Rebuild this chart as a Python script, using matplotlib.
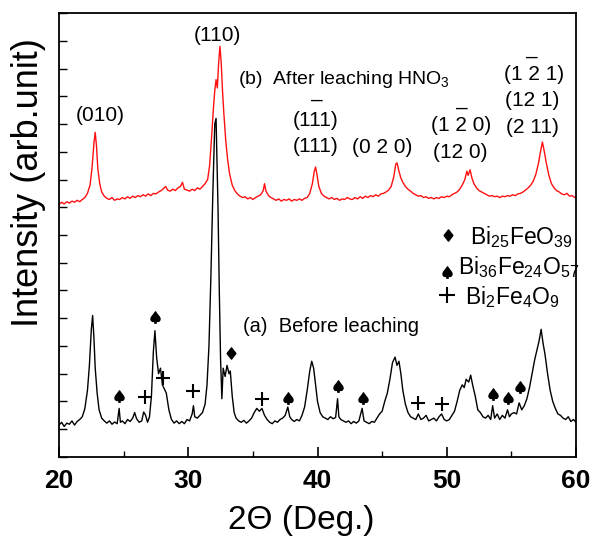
import numpy as np
import matplotlib
matplotlib.use("Agg")
from matplotlib import pyplot as plt
from matplotlib.ticker import MultipleLocator
from matplotlib.textpath import TextPath
from matplotlib.font_manager import FontProperties
from matplotlib.path import Path

# ---- data ----
# (a) before leaching, black trace
x_a = [20.0, 20.2, 20.4, 20.6, 20.8, 21.0, 21.2, 21.4, 21.6, 21.8, 22.0, 22.2, 22.35, 22.5, 22.6, 22.7, 22.8, 22.95,
       23.1, 23.3, 23.5, 23.7, 23.9, 24.1, 24.3, 24.5, 24.65, 24.75, 24.9, 25.1, 25.3, 25.5, 25.7, 25.85, 26.0, 26.2,
       26.4, 26.55, 26.7, 26.85, 27.0, 27.15, 27.3, 27.42, 27.55, 27.7, 27.85, 28.0, 28.15, 28.3, 28.5, 28.7, 28.9,
       29.1, 29.3, 29.5, 29.7, 29.9, 30.1, 30.3, 30.4, 30.5, 30.7, 30.9, 31.1, 31.3, 31.45, 31.6, 31.75, 31.9, 32.05,
       32.15, 32.3, 32.4, 32.5, 32.6, 32.7, 32.85, 33.0, 33.15, 33.25, 33.4, 33.55, 33.7, 33.9, 34.1, 34.3, 34.5, 34.7,
       34.9, 35.1, 35.3, 35.5, 35.7, 35.9, 36.1, 36.3, 36.5, 36.7, 36.9, 37.1, 37.3, 37.5, 37.7, 37.85, 38.0, 38.2,
       38.4, 38.6, 38.8, 39.0, 39.2, 39.4, 39.55, 39.7, 39.85, 40.0, 40.2, 40.4, 40.6, 40.8, 41.0, 41.2, 41.4, 41.55,
       41.65, 41.8, 42.0, 42.2, 42.4, 42.6, 42.8, 43.0, 43.2, 43.45, 43.6, 43.8, 44.0, 44.2, 44.4, 44.6, 44.8, 45.0,
       45.2, 45.4, 45.6, 45.8, 46.0, 46.15, 46.3, 46.45, 46.6, 46.8, 47.0, 47.2, 47.4, 47.6, 47.8, 48.0, 48.2, 48.4,
       48.6, 48.8, 49.0, 49.2, 49.4, 49.6, 49.8, 50.0, 50.2, 50.4, 50.6, 50.8, 51.0, 51.2, 51.35, 51.5, 51.7, 51.85,
       52.0, 52.2, 52.4, 52.6, 52.8, 53.0, 53.2, 53.4, 53.55, 53.7, 53.9, 54.1, 54.3, 54.5, 54.7, 54.85, 55.0, 55.2,
       55.4, 55.6, 55.8, 56.0, 56.2, 56.4, 56.6, 56.8, 57.0, 57.15, 57.3, 57.45, 57.6, 57.8, 58.0, 58.2, 58.4, 58.6,
       58.8, 59.0, 59.2, 59.4, 59.6, 59.8, 60.0]
y_a = [1.15, 1.25, 1.10, 1.22, 1.18, 1.30, 1.15, 1.28, 1.35, 1.45, 1.75, 2.40, 3.30, 4.60, 5.10, 4.30, 3.20, 2.30,
       1.70, 1.40, 1.30, 1.22, 1.30, 1.18, 1.26, 1.20, 1.75, 1.25, 1.30, 1.20, 1.35, 1.28, 1.40, 1.60, 1.38, 1.25,
       1.30, 1.62, 1.50, 1.25, 1.45, 2.20, 3.80, 4.55, 3.60, 3.00, 3.20, 2.60, 2.45, 2.30, 1.70, 1.35, 1.22,
       1.30, 1.20, 1.28, 1.20, 1.35, 1.30, 1.55, 1.85, 1.45, 1.40, 1.50, 1.60, 1.90, 2.60, 4.00, 6.50, 9.50, 12.0,
       12.2, 9.00, 6.00, 3.50, 2.10, 3.20, 2.90, 3.30, 3.00, 3.10, 2.20, 1.60, 1.40, 1.30, 1.25, 1.32, 1.22, 1.30,
       1.40, 1.60, 1.75, 1.65, 1.75, 1.50, 1.35, 1.25, 1.20, 1.30, 1.25, 1.35, 1.40, 1.50, 1.80, 1.45, 1.35, 1.28,
       1.35, 1.30, 1.50, 1.80, 2.40, 3.10, 3.45, 3.20, 2.60, 2.00, 1.60, 1.45, 1.40, 1.35, 1.45, 1.38, 1.42, 2.10,
       1.45, 1.35, 1.30, 1.25, 1.30, 1.20, 1.28, 1.22, 1.30, 1.75, 1.30, 1.25, 1.20, 1.28, 1.25, 1.40, 1.55, 1.65,
       2.00, 2.30, 2.80, 3.40, 3.60, 3.30, 3.45, 3.00, 2.40, 1.90, 1.60, 1.45, 1.40, 1.35, 1.55, 1.35, 1.40, 1.50,
       1.30, 1.35, 1.40, 1.30, 1.45, 1.55, 1.35, 1.30, 1.35, 1.50, 1.65, 2.00, 2.40, 2.60, 2.50, 2.80, 2.70, 2.95,
       2.60, 2.20, 1.70, 1.60, 1.45, 1.40, 1.50, 1.35, 1.85, 1.40, 1.55, 1.35, 1.50, 1.40, 1.70, 1.45, 1.55, 1.60,
       1.55, 1.95, 1.70, 1.85, 2.10, 2.50, 3.00, 3.50, 3.90, 4.20, 4.60, 4.10, 3.70, 3.00, 2.40, 2.00, 1.75, 1.55,
       1.50, 1.40, 1.35, 1.45, 1.28, 1.35, 1.25]

# (b) after leaching HNO3, red trace
x_b = [20.0, 20.2, 20.4, 20.6, 20.8, 21.0, 21.2, 21.4, 21.6, 21.8, 22.0, 22.2, 22.4, 22.55, 22.7, 22.8, 22.9, 23.0,
       23.15, 23.3, 23.5, 23.7, 23.9, 24.1, 24.3, 24.5, 24.7, 24.9, 25.1, 25.3, 25.5, 25.7, 25.9, 26.1, 26.3, 26.5,
       26.7, 26.9, 27.1, 27.3, 27.5, 27.7, 27.9, 28.1, 28.25, 28.4, 28.6, 28.8, 29.0, 29.2, 29.4, 29.55, 29.7, 29.9,
       30.1, 30.3, 30.5, 30.7, 30.9, 31.1, 31.3, 31.5, 31.65, 31.8, 31.95, 32.05, 32.15, 32.25, 32.35, 32.45, 32.55,
       32.65, 32.75, 32.9, 33.05, 33.2, 33.4, 33.6, 33.8, 34.0, 34.2, 34.4, 34.6, 34.8, 35.0, 35.2, 35.4, 35.6, 35.8,
       35.9, 36.0, 36.2, 36.4, 36.6, 36.8, 37.0, 37.2, 37.4, 37.6, 37.8, 38.0, 38.2, 38.4, 38.6, 38.8, 39.0, 39.2,
       39.4, 39.6, 39.75, 39.85, 39.95, 40.1, 40.3, 40.5, 40.7, 40.9, 41.1, 41.3, 41.5, 41.7, 41.9, 42.1, 42.3, 42.5,
       42.7, 42.9, 43.1, 43.3, 43.5, 43.7, 43.9, 44.1, 44.3, 44.5, 44.7, 44.9, 45.1, 45.3, 45.5, 45.7, 45.9, 46.05,
       46.15, 46.3, 46.45, 46.6, 46.8, 47.0, 47.2, 47.4, 47.6, 47.8, 48.0, 48.2, 48.4, 48.6, 48.8, 49.0, 49.2, 49.4,
       49.6, 49.8, 50.0, 50.2, 50.4, 50.6, 50.8, 51.0, 51.2, 51.4, 51.55, 51.65, 51.8, 51.95, 52.1, 52.3, 52.5, 52.7,
       52.9, 53.1, 53.3, 53.5, 53.7, 53.9, 54.1, 54.3, 54.5, 54.7, 54.9, 55.1, 55.3, 55.5, 55.7, 55.9, 56.1, 56.3,
       56.5, 56.7, 56.9, 57.1, 57.25, 57.4, 57.55, 57.7, 57.9, 58.1, 58.3, 58.5, 58.7, 58.9, 59.1, 59.3, 59.5, 59.7,
       59.9, 60.0]
y_b = [9.10, 9.18, 9.12, 9.20, 9.15, 9.22, 9.18, 9.25, 9.20, 9.28, 9.35, 9.50, 9.80, 10.40, 11.30, 11.70, 11.20, 10.40,
       9.85, 9.55, 9.40, 9.32, 9.28, 9.35, 9.25, 9.30, 9.28, 9.35, 9.30, 9.38, 9.32, 9.40, 9.35, 9.42, 9.38, 9.45,
       9.40, 9.48, 9.42, 9.50, 9.48, 9.55, 9.60, 9.68, 9.75, 9.62, 9.58, 9.65, 9.60, 9.70, 9.75, 9.90, 9.65, 9.62,
       9.58, 9.65, 9.60, 9.70, 9.65, 9.75, 9.85, 10.00, 10.50, 11.50, 12.60, 13.20, 13.60, 13.30, 14.20, 14.80, 14.20,
       13.20, 12.40, 11.40, 10.70, 10.20, 9.80, 9.60, 9.48, 9.40, 9.35, 9.38, 9.30, 9.35, 9.28, 9.35, 9.40, 9.45, 9.60,
       9.85, 9.60, 9.42, 9.35, 9.30, 9.25, 9.30, 9.22, 9.28, 9.25, 9.30, 9.22, 9.28, 9.25, 9.30, 9.25, 9.32, 9.35,
       9.50, 9.85, 10.30, 10.45, 10.20, 9.75, 9.50, 9.40, 9.35, 9.30, 9.35, 9.28, 9.32, 9.25, 9.30, 9.28, 9.35, 9.30,
       9.28, 9.35, 9.30, 9.38, 9.32, 9.40, 9.35, 9.42, 9.38, 9.45, 9.40, 9.48, 9.50, 9.55, 9.62, 9.75, 10.10, 10.55,
       10.60, 10.30, 10.05, 9.90, 9.75, 9.65, 9.58, 9.50, 9.45, 9.40, 9.42, 9.35, 9.38, 9.32, 9.35, 9.30, 9.35, 9.32,
       9.38, 9.35, 9.40, 9.38, 9.45, 9.50, 9.55, 9.65, 9.80, 10.00, 10.30, 10.15, 10.35, 10.05, 9.85, 9.70, 9.60, 9.55,
       9.50, 9.45, 9.40, 9.42, 9.38, 9.40, 9.35, 9.40, 9.38, 9.42, 9.40, 9.45, 9.42, 9.48, 9.50, 9.55, 9.62, 9.70,
       9.80, 9.95, 10.20, 10.60, 11.00, 11.35, 11.00, 10.60, 10.15, 9.85, 9.70, 9.60, 9.55, 9.48, 9.45, 9.50, 9.40, 9.42,
       9.35, 9.38]

# phase marks on trace (a)
spade_x = [24.64, 27.42, 37.71, 41.58, 43.51, 53.57, 54.72, 55.65]
spade_y = [2.2, 5.04, 2.13, 2.56, 2.13, 2.27, 2.12, 2.52]
plus_x = [26.65, 28.04, 30.36, 35.7, 47.77, 49.62]
plus_y = [2.16, 2.85, 2.38, 2.09, 1.95, 1.91]
diam_x = [33.3]
diam_y = [3.75]

# miller index labels on trace (b)
hkl_text = ['(010)', '(110)', '(111)', '(111)', '(0 2 0)', '(1 2 0)', '(12 0)', '(1 2 1)', '(12 1)', '(2 11)']
hkl_x = [23.17, 32.22, 39.88, 39.88, 44.98, 51.09, 51.01, 56.74, 56.58, 56.66]
hkl_y = [12.32, 15.2, 12.14, 11.2, 11.14, 11.96, 10.99, 13.77, 12.86, 11.89]
bar_x = [39.95, 51.17, 56.58]
bar_y = [12.86, 12.58, 14.41]

# phase legend (diamond, spade, plus)
leg_text = [r'$\mathregular{Bi_{25}FeO_{39}}$', r'$\mathregular{Bi_{36}Fe_{24}O_{57}}$', r'$\mathregular{Bi_2Fe_4O_9}$']
leg_sym_x = [50.08, 50.0, 50.0]
leg_sym_y = [8.0, 6.67, 5.84]
leg_text_x = [51.79, 50.86, 51.4]
leg_text_y = [7.93, 6.85, 5.77]

plt.rcParams['font.family'] = ['Liberation Sans', 'DejaVu Sans']
plt.rcParams['mathtext.fontset'] = 'custom'
plt.rcParams['mathtext.rm'] = 'Liberation Sans'


def glyph_marker(ch):
    # turn a DejaVu glyph into a centred marker path
    tp = TextPath((0, 0), ch, prop=FontProperties(family='DejaVu Sans'), size=10)
    v = tp.vertices.copy()
    ext = tp.get_extents()
    v[:, 0] -= (ext.x0 + ext.x1) / 2
    v[:, 1] -= (ext.y0 + ext.y1) / 2
    return Path(v, tp.codes)


spade = glyph_marker('\u2660')
diamond = glyph_marker('\u2666')

fig = plt.figure(figsize=(5.92, 5.38), dpi=100)
ax = fig.add_axes([0.0997, 0.1506, 0.8733, 0.8252])

ax.plot(x_a, y_a, color='black', lw=1.0)
ax.plot(x_b, y_b, color='#ff1010', lw=1.0)

# phase marks
ax.plot(spade_x, spade_y, ls='none', marker=spade, ms=10, color='black')
ax.plot(plus_x, plus_y, ls='none', marker='+', ms=10, mew=1.5, color='black')
ax.plot(diam_x, diam_y, ls='none', marker=diamond, ms=10, color='black')

# hkl labels + overbars
for t, x, y in zip(hkl_text, hkl_x, hkl_y):
    ax.text(x, y, t, fontsize=15, ha='center', va='center')
for x, y in zip(bar_x, bar_y):
    ax.text(x, y, '\u2013', fontsize=15, ha='center', va='center')

ax.text(33.84, 13.59, r'(b)  After leaching HNO$_\mathregular{3}$', fontsize=14, ha='left', va='center')
ax.text(34.23, 4.72, '(a)  Before leaching', fontsize=14.5, ha='left', va='center')

# legend block
ax.plot(leg_sym_x[0], leg_sym_y[0], ls='none', marker=diamond, ms=10, color='black')
ax.plot(leg_sym_x[1], leg_sym_y[1], ls='none', marker=spade, ms=10, color='black')
ax.plot(leg_sym_x[2], leg_sym_y[2], ls='none', marker='+', ms=11, mew=1.5, color='black')
for t, x, y in zip(leg_text, leg_text_x, leg_text_y):
    ax.text(x, y, t, fontsize=16.5, ha='left', va='center')

ax.set_xlim(20, 60)
ax.set_ylim(0, 16)
ax.xaxis.set_major_locator(MultipleLocator(10))
ax.xaxis.set_minor_locator(MultipleLocator(5))
ax.yaxis.set_major_locator(MultipleLocator(1))
ax.tick_params(axis='x', which='major', direction='in', length=7, width=1.2, pad=9, top=False)
ax.tick_params(axis='x', which='minor', direction='in', length=4, width=1.0, top=False)
ax.tick_params(axis='y', which='major', direction='in', length=6, width=1.0, labelleft=False, right=False)
for lab in ax.get_xticklabels():
    lab.set_fontsize(19)
    lab.set_fontweight('bold')
for sp in ax.spines.values():
    sp.set_linewidth(1.3)

ax.set_xlabel('2\u0398 (Deg.)', fontsize=24)
ax.xaxis.label.set_va('center')
ax.xaxis.set_label_coords(0.468, -0.142)
ax.set_ylabel('Intensity (arb.unit)', fontsize=26)
ax.yaxis.label.set_va('center')
ax.yaxis.set_label_coords(-0.06, 0.617)

fig.savefig('out.png', dpi=100)
